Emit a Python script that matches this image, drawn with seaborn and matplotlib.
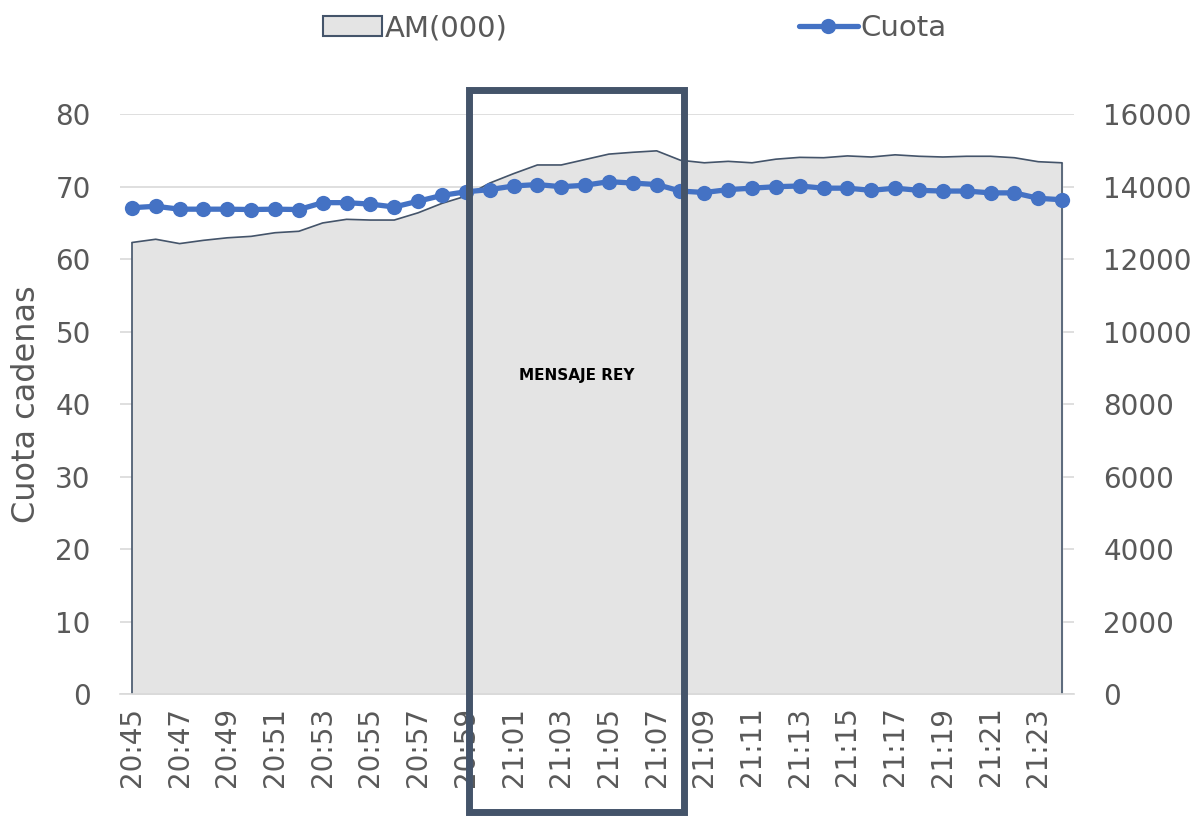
import pandas as pd
import matplotlib.pyplot as plt
import seaborn as sns
from matplotlib.patches import Rectangle, Patch
from matplotlib.lines import Line2D
import matplotlib.transforms as mtransforms

# minute-by-minute categories
times = ["20:45", "20:46", "20:47", "20:48", "20:49", "20:50", "20:51", "20:52",
         "20:53", "20:54", "20:55", "20:56", "20:57", "20:58", "20:59", "21:00",
         "21:01", "21:02", "21:03", "21:04", "21:05", "21:06", "21:07", "21:08",
         "21:09", "21:10", "21:11", "21:12", "21:13", "21:14", "21:15", "21:16",
         "21:17", "21:18", "21:19", "21:20", "21:21", "21:22", "21:23", "21:24"]

# audience (thousands) - right axis
am = [12460, 12550, 12430, 12520, 12590, 12630, 12730, 12770,
      13000, 13100, 13080, 13080, 13280, 13540, 13740, 14100,
      14360, 14600, 14600, 14750, 14900, 14950, 14990, 14730,
      14660, 14700, 14660, 14760, 14810, 14800, 14850, 14820,
      14880, 14840, 14820, 14840, 14840, 14800, 14690, 14660]

# share of channels - left axis
cuota = [67.1, 67.3, 66.9, 66.9, 66.9, 66.85, 66.9, 66.85,
         67.8, 67.8, 67.6, 67.2, 68.0, 68.8, 69.3, 69.6,
         70.1, 70.3, 70.0, 70.2, 70.7, 70.5, 70.3, 69.4,
         69.2, 69.6, 69.8, 70.0, 70.1, 69.8, 69.8, 69.5,
         69.8, 69.5, 69.4, 69.4, 69.15, 69.15, 68.4, 68.2]

data = pd.DataFrame({"pos": range(len(times)), "Hora": times,
                     "AM": am, "Cuota": cuota})

sns.set_style("white")
plt.rcParams["font.family"] = ["DejaVu Sans"]

gray = "#595959"
blue = "#4472C4"
slate = "#44546A"

fig = plt.figure(figsize=(11.96, 8.16), dpi=100)
ax = fig.add_axes([0.1003, 0.1495, 0.7977, 0.7105])
ax2 = ax.twinx()

# area on right axis
ax2.fill_between(data["pos"], data["AM"], 0, color="#E4E4E4", zorder=2)
ax2.plot(list(data["pos"]), list(data["AM"]), color=slate, lw=1.2, zorder=3)
ax2.vlines([data["pos"].iloc[0], data["pos"].iloc[-1]], 0,
           [data["AM"].iloc[0], data["AM"].iloc[-1]], color=slate, lw=1.2, zorder=3)
ax2.set_ylim(0, 16000)
ax2.set_yticks(range(0, 16001, 2000))
ax2.yaxis.grid(True, color="#D9D9D9", lw=1.2, zorder=0)
ax2.set_axisbelow(True)

# line on left axis
sns.lineplot(data=data, x="pos", y="Cuota", ax=ax, color=blue, lw=3.8,
             marker="o", markersize=11, markeredgewidth=0, label="Cuota",
             legend=False)
ax.set_ylim(0, 80)
ax.set_yticks(range(0, 81, 10))
ax.set_xlim(-0.5, len(times) - 0.5)
ax.set_xticks(data["pos"][::2])
ax.set_xticklabels(data["Hora"][::2], rotation=90)
ax.set_xlabel("")
ax.set_ylabel("Cuota cadenas", fontsize=23, color=gray)
ax.yaxis.set_label_coords(-0.082, 0.5)

ax.set_zorder(ax2.get_zorder() + 1)
ax.patch.set_visible(False)

for a in (ax, ax2):
    for s in a.spines.values():
        s.set_visible(False)
    a.tick_params(length=0, labelsize=20, labelcolor=gray, pad=21)
ax.spines["bottom"].set_visible(True)
ax.spines["bottom"].set_color("#D9D9D9")
ax.spines["bottom"].set_linewidth(1.2)
ax.tick_params(axis="x", pad=9)

# highlight box
trans = mtransforms.blended_transform_factory(ax.transData, ax.transAxes)
box = Rectangle((14.15, -0.203), 9.0, 1.244, transform=trans, fill=False,
                edgecolor=slate, lw=5, clip_on=False, zorder=10)
ax.add_patch(box)
ax.text(18.65, 44, "MENSAJE REY", ha="center", va="center", fontsize=11,
        fontweight="bold", color="black", zorder=11)

# legend
handles = [Patch(facecolor="#E4E4E4", edgecolor=slate, lw=1.5),
           Line2D([0], [0], color=blue, lw=3.8, marker="o", markersize=11,
                  markeredgewidth=0)]
fig.legend(handles, ["AM(000)", "Cuota"], loc="upper center",
           bbox_to_anchor=(0.531, 1.015), ncol=2, frameon=False, fontsize=21,
           labelcolor=gray, columnspacing=10.0, handlelength=2.0,
           handletextpad=0.1)

fig.savefig("out.png", dpi=100)
